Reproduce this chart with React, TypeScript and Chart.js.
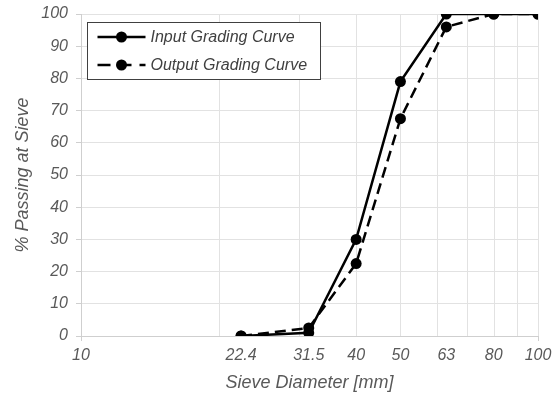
import React, { useEffect, useRef } from "react";
import { Chart, registerables } from "chart.js";

Chart.register(...registerables);

const xTickLabels = [10, 22.4, 31.5, 40, 50, 63, 80, 100];
const xGridValues = [20, 30, 40, 50, 60, 70, 80, 90, 100];
const sieveSizes = [22.4, 31.5, 40, 50, 63, 80, 100];
const inputPassing = [0, 1, 30, 79, 100, 100, 100];
const outputPassing = [0, 2.5, 22.5, 67.5, 96, 100, 100];
const seriesNames = ["Input Grading Curve", "Output Grading Curve"];

const FONT = "'Liberation Sans', Arial, sans-serif";
const TEXT = "#595959";
const GRID = "#e2e2e2";
const AXIS = "#cfcfcf";

const gridPlugin = {
  id: "logGrid",
  beforeDatasetsDraw(chart: any) {
    const { ctx, chartArea } = chart;
    const xs = chart.scales.x;
    ctx.save();
    ctx.lineWidth = 1;
    ctx.strokeStyle = GRID;
    xGridValues.forEach((v) => {
      const px = Math.round(xs.getPixelForValue(v)) + 0.5;
      ctx.beginPath();
      ctx.moveTo(px, chartArea.top);
      ctx.lineTo(px, chartArea.bottom);
      ctx.stroke();
    });
    ctx.strokeStyle = AXIS;
    [10, 100].forEach((v) => {
      const px = Math.round(xs.getPixelForValue(v)) + 0.5;
      ctx.beginPath();
      ctx.moveTo(px, chartArea.bottom);
      ctx.lineTo(px, chartArea.bottom + 5);
      ctx.stroke();
    });
    ctx.restore();
  },
};

const legendPlugin = {
  id: "boxLegend",
  afterDraw(chart: any) {
    const { ctx, chartArea } = chart;
    const bx = chartArea.left + 6.5;
    const by = chartArea.top + 8.5;
    const bw = 233;
    const bh = 57;
    ctx.save();
    ctx.fillStyle = "#ffffff";
    ctx.fillRect(bx, by, bw, bh);
    ctx.strokeStyle = "#404040";
    ctx.lineWidth = 1;
    ctx.strokeRect(bx, by, bw, bh);
    chart.data.datasets.forEach((ds: any, i: number) => {
      const cy = by + 14.5 + i * 28;
      const x0 = bx + 10;
      const x1 = bx + 58;
      ctx.strokeStyle = "#000";
      ctx.lineWidth = 2.5;
      ctx.setLineDash(ds.borderDash ? [13, 8] : []);
      ctx.beginPath();
      ctx.moveTo(x0, cy);
      ctx.lineTo(x1, cy);
      ctx.stroke();
      ctx.setLineDash([]);
      ctx.fillStyle = "#000";
      ctx.beginPath();
      ctx.arc((x0 + x1) / 2, cy, 5.5, 0, Math.PI * 2);
      ctx.fill();
      ctx.fillStyle = "#404040";
      ctx.font = `italic 16px ${FONT}`;
      ctx.textBaseline = "middle";
      ctx.textAlign = "left";
      ctx.fillText(ds.label, x1 + 5, cy + 1);
    });
    ctx.restore();
  },
};

export default function App() {
  const ref = useRef<HTMLCanvasElement>(null);
  useEffect(() => {
    if (!ref.current) return;
    const chart = new Chart(ref.current, {
      type: "line",
      data: {
        datasets: [
          {
            label: seriesNames[0],
            data: sieveSizes.map((x, i) => ({ x, y: inputPassing[i] })),
            borderColor: "#000",
            backgroundColor: "#000",
            borderWidth: 2.5,
            pointRadius: 5.5,
            pointBackgroundColor: "#000",
            pointBorderWidth: 0,
            tension: 0,
          },
          {
            label: seriesNames[1],
            data: sieveSizes.map((x, i) => ({ x, y: outputPassing[i] })),
            borderColor: "#000",
            backgroundColor: "#000",
            borderWidth: 2.5,
            borderDash: [11, 6],
            pointRadius: 5.5,
            pointBackgroundColor: "#000",
            pointBorderWidth: 0,
            tension: 0,
          },
        ],
      },
      options: {
        animation: false,
        responsive: true,
        maintainAspectRatio: false,
        layout: { padding: { left: 0, right: 21, top: 14, bottom: 0 } },
        plugins: { legend: { display: false }, tooltip: { enabled: false } },
        scales: {
          x: {
            type: "logarithmic",
            min: 10,
            max: 100,
            afterBuildTicks: (scale: any) => {
              scale.ticks = xTickLabels.map((v) => ({ value: v }));
            },
            afterFit: (scale: any) => {
              scale.height = 58;
              scale.paddingLeft = 0;
              scale.paddingRight = 0;
            },
            grid: { display: false, drawTicks: false },
            border: { color: AXIS, width: 1 },
            ticks: {
              autoSkip: false,
              maxRotation: 0,
              color: TEXT,
              font: { family: FONT, size: 16, style: "italic" },
              padding: 10,
              callback: (v: any) => String(v),
            },
            title: {
              display: true,
              text: "Sieve Diameter [mm]",
              color: TEXT,
              font: { family: FONT, size: 18, style: "italic" },
              padding: { top: 0, bottom: 0 },
            },
          },
          y: {
            min: 0,
            max: 100,
            afterFit: (scale: any) => {
              scale.width = 81;
              scale.paddingTop = 0;
              scale.paddingBottom = 0;
            },
            grid: { color: GRID, tickLength: 5, tickColor: AXIS },
            border: { color: AXIS, width: 1 },
            ticks: {
              stepSize: 10,
              color: TEXT,
              font: { family: FONT, size: 16, style: "italic" },
              padding: 8,
            },
            title: {
              display: true,
              text: "% Passing at Sieve",
              color: TEXT,
              font: { family: FONT, size: 18, style: "italic" },
              padding: { top: 12, bottom: 0 },
            },
          },
        },
      },
      plugins: [gridPlugin, legendPlugin],
    });
    return () => chart.destroy();
  }, []);
  return (
    <div style={{ position: "fixed", left: 0, top: 0, width: 559, height: 394, background: "#fff" }}>
      <canvas ref={ref} />
    </div>
  );
}
